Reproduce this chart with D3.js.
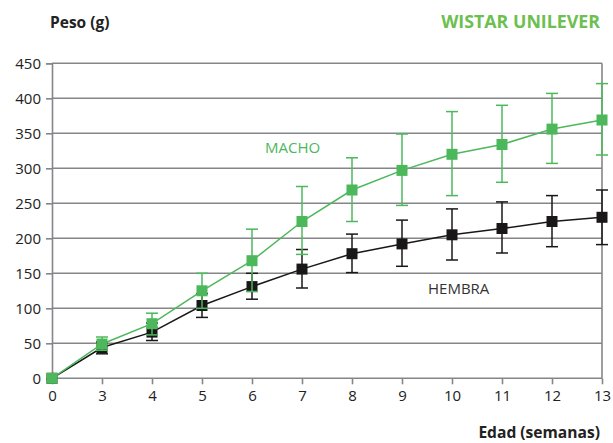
<!DOCTYPE html>
<html><head><meta charset="utf-8">
<script src="https://cdn.jsdelivr.net/npm/d3@7"></script>
<style>body{margin:0;background:#fff}svg{display:block}text{font-family:"Open Sans",sans-serif}</style>
</head><body><svg id="c" width="613" height="443"></svg>
<script>
const weeks = ["0","3","4","5","6","7","8","9","10","11","12","13"];
const machoMean = [0,49,78,125,168,224,269,297,320,334,356,369];
const machoLow  = [0,40,62,100,124,177,224,247,261,280,307,319];
const machoHigh = [0,59,93,150,213,274,315,349,381,390,407,421];
const hembraMean = [0,44,66,104,131,156,178,192,205,214,224,230];
const hembraLow  = [0,35,54,87,113,129,151,160,169,179,188,191];
const hembraHigh = [0,52,79,121,150,184,206,226,242,252,261,269];
const yTicks = [0,50,100,150,200,250,300,350,400,450];

const svg = d3.select("#c");
const x = d3.scalePoint().domain(weeks).range([52, 602]);
const y = d3.scaleLinear().domain([0,450]).range([378.3, 63.3]);
const grid = "#86868a";

svg.append("g").selectAll("line").data(yTicks).join("line")
  .attr("x1",52).attr("x2",602).attr("y1",d=>y(d)).attr("y2",d=>y(d))
  .attr("stroke",grid).attr("stroke-width",1.6);
svg.append("line").attr("x1",602).attr("x2",602).attr("y1",y(450)).attr("y2",y(0)).attr("stroke",grid).attr("stroke-width",1.6);

const yAxis = svg.append("g").attr("transform","translate(52,0)")
  .call(d3.axisLeft(y).tickValues(yTicks).tickSize(6).tickPadding(5));
const xAxis = svg.append("g").attr("transform",`translate(0,${y(0)})`)
  .call(d3.axisBottom(x).tickSize(6).tickPadding(6));
[yAxis,xAxis].forEach(a=>{
  a.select(".domain").attr("stroke",grid).attr("stroke-width",1.6);
  a.selectAll(".tick line").attr("stroke",grid).attr("stroke-width",1.6);
  a.selectAll("text").attr("font-size",15).attr("fill","#222").attr("font-family","Open Sans");
});
xAxis.select(".domain").remove();

function series(mean, low, high, color){
  const g = svg.append("g");
  const idx = d3.range(weeks.length).filter(i=>i>0);
  g.selectAll(".eb").data(idx).join("line")
    .attr("x1",i=>x(weeks[i])).attr("x2",i=>x(weeks[i]))
    .attr("y1",i=>y(low[i])).attr("y2",i=>y(high[i])).attr("stroke",color).attr("stroke-width",1.5);
  [low,high].forEach(arr=>{
    g.selectAll(null).data(idx).join("line")
      .attr("x1",i=>x(weeks[i])-6).attr("x2",i=>x(weeks[i])+6)
      .attr("y1",i=>y(arr[i])).attr("y2",i=>y(arr[i])).attr("stroke",color).attr("stroke-width",1.5);
  });
  g.append("path").datum(mean).attr("fill","none").attr("stroke",color).attr("stroke-width",1.5)
    .attr("d", d3.line().x((d,i)=>x(weeks[i])).y(d=>y(d)));
  g.selectAll("rect").data(mean).join("rect")
    .attr("x",(d,i)=>x(weeks[i])-5.5).attr("y",d=>y(d)-5.5).attr("width",11).attr("height",11).attr("fill",color);
}
series(hembraMean, hembraLow, hembraHigh, "#1a1718");
series(machoMean, machoLow, machoHigh, "#4cb85b");

svg.append("text").attr("x",50).attr("y",28).attr("font-size",15.5).attr("font-weight","bold").attr("fill","#222").text("Peso (g)");
svg.append("text").attr("x",600).attr("y",28).attr("text-anchor","end").attr("font-size",17.8).attr("font-weight","bold").attr("fill","#6cc04f").text("WISTAR UNILEVER");
svg.append("text").attr("x",600).attr("y",438).attr("text-anchor","end").attr("font-size",15.6).attr("font-weight","bold").attr("fill","#222").text("Edad (semanas)");
svg.append("text").attr("x",265).attr("y",153).attr("font-size",15).attr("fill","#4cb85b").text("MACHO");
svg.append("text").attr("x",428).attr("y",294).attr("font-size",15).attr("fill","#333").text("HEMBRA");
</script></body></html>
